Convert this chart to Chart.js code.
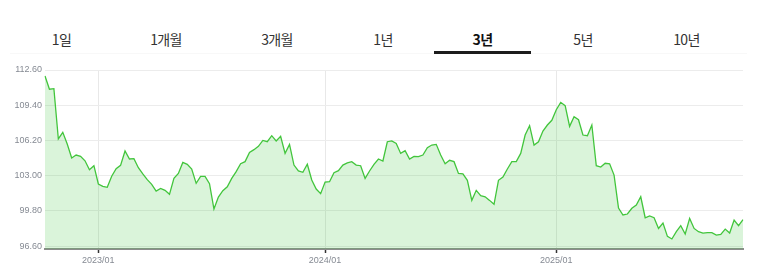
<!DOCTYPE html>
<html>
<head>
<meta charset="utf-8">
<script src="https://cdn.jsdelivr.net/npm/chart.js@4/dist/chart.umd.min.js"></script>
<style>
  html, body { margin: 0; padding: 0; background: #fff; }
  #wrap { position: relative; width: 757px; height: 275px; overflow: hidden; }
  #c { position: absolute; left: 0; top: 0; }
  .tab { position: absolute; top: 29px; font-family: "Noto Sans CJK KR", "Noto Sans", sans-serif; font-size: 14px; color: #333; transform: translateX(-50%); white-space: nowrap; line-height: 20px; letter-spacing: -0.6px; }
  .tab.sel { font-weight: bold; color: #111; }
  #sep { position: absolute; left: 10px; top: 53px; width: 737px; height: 1px; background: #f8f8f8; }
  #under { position: absolute; left: 434px; top: 51px; width: 97px; height: 3px; background: #1c1c1c; }
</style>
</head>
<body>
<div id="wrap">
  <div id="tabs"></div>
  <div id="sep"></div>
  <div id="under"></div>
  <canvas id="c" width="757" height="275"></canvas>
</div>
<script>
// ---- data ----
const tabLabels = ["1일", "1개월", "3개월", "1년", "3년", "5년", "10년"];
const selectedTab = "3년";
const tabCenters = [61.5, 166, 277, 383, 482.5, 583, 686.5];

const startDate = "2022-10-11"; // first weekly observation
const values = [
  112.05, 110.85, 110.90, 106.33, 106.93, 105.87, 104.60, 104.87, 104.75, 104.35,
  103.54, 103.90, 102.24, 102.03, 101.94, 102.94, 103.63, 103.93, 105.24, 104.51,
  104.54, 103.72, 103.15, 102.63, 102.21, 101.60, 101.84, 101.66, 101.30, 102.75,
  103.20, 104.20, 104.03, 103.60, 102.30, 102.93, 102.93, 102.27, 99.96, 101.05,
  101.63, 101.99, 102.75, 103.36, 104.08, 104.27, 105.11, 105.36, 105.66, 106.20,
  106.08, 106.63, 106.15, 106.57, 105.02, 105.84, 103.96, 103.42, 103.30, 104.03,
  102.60, 101.78, 101.36, 102.42, 102.45, 103.27, 103.45, 103.96, 104.15, 104.27,
  103.96, 103.90, 102.75, 103.42, 104.03, 104.51, 104.33, 106.08, 106.15, 105.93,
  105.02, 105.27, 104.51, 104.75, 104.72, 104.87, 105.54, 105.78, 105.84, 104.87,
  104.08, 104.39, 104.27, 103.20, 103.15, 102.57, 100.75, 101.66, 101.17, 101.08,
  100.75, 100.39, 102.57, 102.87, 103.60, 104.27, 104.27, 105.02, 106.69, 107.54,
  105.78, 106.08, 107.05, 107.60, 108.03, 108.99, 109.66, 109.36, 107.48, 108.36,
  108.08, 106.69, 106.63, 107.60, 103.90, 103.78, 104.12, 104.08, 103.05, 100.05,
  99.42, 99.51, 100.03, 100.33, 101.08, 99.17, 99.33, 99.17, 98.20, 98.69,
  97.48, 97.24, 97.90, 98.45, 97.69, 99.11, 98.20, 97.90, 97.78, 97.81,
  97.81, 97.60, 97.66, 98.14, 97.78, 98.96, 98.45, 98.99
];
const yTicks = [96.60, 99.80, 103.00, 106.20, 109.40, 112.60];
const xTickIndex = [12, 63, 115];
const xTickLabels = ["2023/01", "2024/01", "2025/01"];

// ---- tabs ----
const tabsEl = document.getElementById("tabs");
tabLabels.forEach((t, i) => {
  const d = document.createElement("div");
  d.className = "tab" + (t === selectedTab ? " sel" : "");
  d.style.left = tabCenters[i] + "px";
  d.textContent = t;
  tabsEl.appendChild(d);
});

// ---- category labels (weekly dates) ----
const labels = values.map((_, i) => {
  const d = new Date(startDate + "T00:00:00Z");
  d.setUTCDate(d.getUTCDate() + 7 * i);
  return d.toISOString().slice(0, 10);
});

const tickFont = { family: "'Liberation Sans', Arial, sans-serif", size: 9 };

new Chart(document.getElementById("c"), {
  type: "line",
  data: {
    labels: labels,
    datasets: [{
      data: values,
      borderColor: "#42c53c",
      borderWidth: 1.3,
      backgroundColor: "rgba(70, 200, 70, 0.2)",
      fill: "start",
      tension: 0,
      pointRadius: 0,
      pointHoverRadius: 0
    }]
  },
  options: {
    responsive: false,
    animation: false,
    events: [],
    layout: { padding: { top: 70, right: 14, bottom: 0, left: 0 } },
    plugins: { legend: { display: false }, tooltip: { enabled: false } },
    scales: {
      x: {
        type: "category",
        offset: false,
        afterBuildTicks: (scale) => { scale.ticks = xTickIndex.map(v => ({ value: v })); },
        afterFit: (scale) => { scale.height = 26; },
        ticks: {
          autoSkip: false,
          maxRotation: 0,
          padding: 2,
          color: "#858a93",
          font: tickFont,
          callback: (value) => xTickLabels[xTickIndex.indexOf(value)]
        },
        grid: {
          color: "#e8e8e8",
          lineWidth: 1,
          drawTicks: true,
          tickLength: 4,
          tickColor: "#333",
          tickWidth: 1.5
        },
        border: { display: true, color: "#8c8c8c", width: 2 }
      },
      y: {
        min: 96.33,
        max: 112.6,
        afterBuildTicks: (scale) => { scale.ticks = yTicks.map(v => ({ value: v })); },
        afterFit: (scale) => { scale.width = 45; },
        ticks: {
          padding: 3,
          color: "#858a93",
          font: tickFont,
          callback: (v) => Number(v).toFixed(2)
        },
        grid: { color: "#ececec", lineWidth: 1, drawTicks: false },
        border: { display: false }
      }
    }
  }
});
</script>
</body>
</html>
